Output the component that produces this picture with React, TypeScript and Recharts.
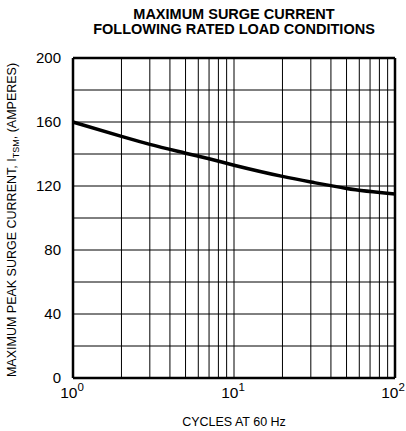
import {
  LineChart,
  Line,
  XAxis,
  YAxis,
  CartesianGrid,
  ReferenceLine,
} from 'recharts';

const FONT = '"Liberation Sans", Arial, sans-serif';

const cycles = [1, 2, 3, 5, 7, 10, 20, 30, 50, 100];
const surgeAmps = [160, 151, 146, 140.5, 137, 133, 126, 122.5, 118.5, 115];

const xMajorTicks = [1, 10, 100];
const xMinorGrid = [2, 3, 4, 5, 6, 7, 8, 9, 20, 30, 40, 50, 60, 70, 80, 90];
const yTicks = [0, 20, 40, 60, 80, 100, 120, 140, 160, 180, 200];
const yLabelled = [0, 40, 80, 120, 160, 200];

const data = cycles.map((c, i) => ({ cycles: c, amps: surgeAmps[i] }));

function PowerTick({ x, y, payload }: any) {
  const exp = Math.round(Math.log10(payload.value));
  return (
    <text x={x - 1} y={y + 12} textAnchor="middle" fontFamily={FONT} fontSize={15.5} fill="#000">
      10
      <tspan dy={-7} fontSize={11.5}>
        {exp}
      </tspan>
    </text>
  );
}

function YTick({ x, y, payload }: any) {
  if (!yLabelled.includes(payload.value)) return null;
  return (
    <text x={x - 4} y={y + 5} textAnchor="end" fontFamily={FONT} fontSize={15} fill="#000">
      {payload.value}
    </text>
  );
}

function YTitle({ viewBox }: any) {
  const cy = viewBox.y + viewBox.height / 2 + 2;
  const cx = 16;
  return (
    <text
      x={cx}
      y={cy}
      transform={`rotate(-90 ${cx} ${cy})`}
      textAnchor="middle"
      fontFamily={FONT}
      fontSize={12.5}
      fill="#000"
    >
      MAXIMUM PEAK SURGE CURRENT, I
      <tspan dy={3} fontSize={9}>
        TSM
      </tspan>
      <tspan dy={-3}>, (AMPERES)</tspan>
    </text>
  );
}

export default function App() {
  return (
    <div style={{ position: 'absolute', left: 0, top: 0, width: 406, height: 431, background: '#fff' }}>
      <div
        style={{
          position: 'absolute',
          left: 73,
          width: 322,
          top: 7,
          textAlign: 'center',
          fontFamily: FONT,
          fontWeight: 'bold',
          fontSize: 14.5,
          lineHeight: '15px',
          whiteSpace: 'nowrap',
        }}
      >
        MAXIMUM SURGE CURRENT
        <br />
        FOLLOWING RATED LOAD CONDITIONS
      </div>
      <LineChart
        width={406}
        height={431}
        data={data}
        margin={{ top: 58, right: 11, left: 0, bottom: 0 }}
      >
        <CartesianGrid stroke="#000" strokeWidth={1} />
        {xMinorGrid.map((v) => (
          <ReferenceLine key={v} x={v} stroke="#000" strokeWidth={1} />
        ))}
        <XAxis
          dataKey="cycles"
          type="number"
          scale="log"
          domain={[1, 100]}
          ticks={xMajorTicks}
          tick={<PowerTick />}
          tickLine={false}
          axisLine={false}
          height={53}
          allowDataOverflow
          label={{
            value: 'CYCLES AT 60 Hz',
            position: 'insideBottom',
            offset: 5,
            style: { fontFamily: FONT, fontSize: 12.5, fill: '#000' },
          }}
        />
        <YAxis
          type="number"
          domain={[0, 200]}
          ticks={yTicks}
          tick={<YTick />}
          tickLine={false}
          axisLine={false}
          width={73}
          label={<YTitle />}
        />
        <Line
          type="monotone"
          dataKey="amps"
          stroke="#000"
          strokeWidth={3.5}
          dot={false}
          isAnimationActive={false}
        />
        <ReferenceLine x={1} stroke="#000" strokeWidth={2.5} />
        <ReferenceLine x={100} stroke="#000" strokeWidth={2.5} />
        <ReferenceLine y={0} stroke="#000" strokeWidth={2.5} />
        <ReferenceLine y={200} stroke="#000" strokeWidth={2.5} />
      </LineChart>
    </div>
  );
}
